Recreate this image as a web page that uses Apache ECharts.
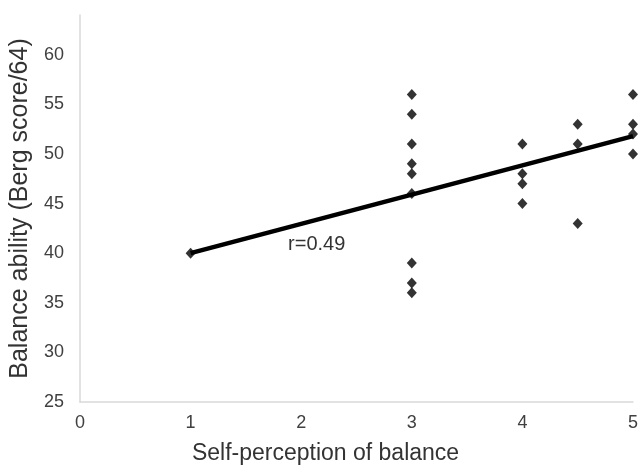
<!DOCTYPE html>
<html><head><meta charset="utf-8">
<script src="https://cdn.jsdelivr.net/npm/echarts@6/dist/echarts.min.js"></script>
<style>html,body{margin:0;padding:0;background:#fff}#c{width:641px;height:470px}</style>
</head><body><div id="c"></div>
<script>
var points = [
  [1,40],
  [3,56],[3,54],[3,51],[3,49],[3,48],[3,46],[3,39],[3,37],[3,36],
  [4,51],[4,48],[4,47],[4,45],
  [4.5,53],[4.5,51],[4.5,43],
  [5,56],[5,53],[5,52],[5,50]
];
var trendLine = [[1,40],[5,51.8]];
var rLabel = 'r=0.49';
var rLabelPos = [2.14, 40.85];
var xTitle = 'Self-perception of balance';
var yTitle = 'Balance ability (Berg score/64)';

var chart = echarts.init(document.getElementById('c'));
var font = '"Liberation Sans", Arial, sans-serif';
chart.setOption({
  animation:false,
  grid:{left:80,right:5,top:15,bottom:67,containLabel:false},
  xAxis:{type:'value',min:0,max:5,interval:1,
    name:xTitle,nameLocation:'middle',nameGap:40,
    nameTextStyle:{fontFamily:font,fontSize:23,color:'#333',padding:[0,62,0,0]},
    axisLine:{lineStyle:{color:'#d9d9d9',width:1.5}},
    axisTick:{show:false},splitLine:{show:false},
    axisLabel:{fontFamily:font,fontSize:18,color:'#404040',margin:12}
  },
  yAxis:{type:'value',min:25,max:64,interval:5,
    name:yTitle,nameLocation:'middle',nameGap:46,
    nameTextStyle:{fontFamily:font,fontSize:25,color:'#333'},
    axisLine:{show:true,lineStyle:{color:'#d9d9d9',width:1.5}},
    axisTick:{show:false},splitLine:{show:false},
    axisLabel:{fontFamily:font,fontSize:18,color:'#404040',margin:16,showMaxLabel:false}
  },
  series:[
    {type:'line',data:trendLine,symbol:'none',lineStyle:{color:'#000',width:4.5},z:2,
     markPoint:{symbol:'circle',symbolSize:0,data:[{coord:rLabelPos}],
       label:{show:true,formatter:rLabel,fontFamily:font,fontSize:20,color:'#333',position:'inside'}}},
    {type:'scatter',data:points,symbol:'diamond',symbolSize:[10,11],itemStyle:{color:'#000'},z:3}
  ]
});
</script></body></html>
